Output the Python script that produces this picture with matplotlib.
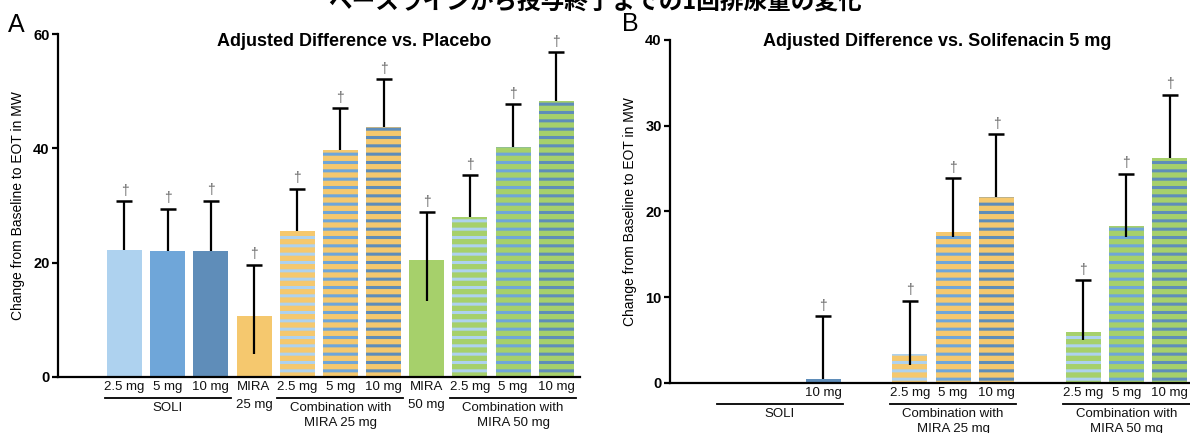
import numpy as np
import matplotlib
matplotlib.use("Agg")
import matplotlib.pyplot as plt
from matplotlib.transforms import ScaledTranslation

plt.rcParams["font.family"] = ["Liberation Sans", "DejaVu Sans"]
plt.rcParams["hatch.linewidth"] = 2.2

# ---- categories -------------------------------------------------------
dose_labels = ["2.5 mg", "5 mg", "10 mg", "MIRA\n25 mg",
               "2.5 mg", "5 mg", "10 mg", "MIRA\n50 mg",
               "2.5 mg", "5 mg", "10 mg"]
group_labels = ["SOLI", "Combination with\nMIRA 25 mg", "Combination with\nMIRA 50 mg"]
group_members = [(0, 2), (4, 6), (8, 10)]

# ---- panel A: adjusted difference vs placebo (mL) -----------------------
placebo_diff = [22.2, 22.0, 22.0, 10.7, 25.5, 39.7, 43.7, 20.5, 28.0, 40.2, 48.3]
placebo_upper = [30.7, 29.4, 30.8, 19.6, 32.9, 47.0, 52.1, 28.8, 35.3, 47.7, 56.8]
placebo_lower = [22.2, 22.0, 22.0, 4.0, 25.5, 39.7, 43.7, 13.3, 28.0, 40.2, 48.3]

# ---- panel B: adjusted difference vs solifenacin 5 mg (mL) --------------
nan = np.nan
soli5_diff = [nan, nan, 0.5, nan, 3.4, 17.6, 21.7, nan, 5.9, 18.3, 26.2]
soli5_upper = [nan, nan, 7.8, nan, 9.6, 23.9, 29.0, nan, 12.0, 24.4, 33.6]
soli5_lower = [nan, nan, 0.5, nan, 2.1, 17.0, 21.7, nan, 5.0, 17.0, 26.2]

# ---- colours ------------------------------------------------------------
SOLI_25, SOLI_5, SOLI_10 = "#aed2ef", "#6fa6d9", "#5f8db9"
MIRA_25, MIRA_50 = "#f5c86e", "#a6d06b"
face_colors = [SOLI_25, SOLI_5, SOLI_10, MIRA_25,
               MIRA_25, MIRA_25, MIRA_25, MIRA_50,
               MIRA_50, MIRA_50, MIRA_50]
stripe_colors = [None, None, None, None,
                 SOLI_25, SOLI_5, SOLI_10, None,
                 SOLI_25, SOLI_5, SOLI_10]

W, H = 1190, 433
fig = plt.figure(figsize=(W / 100, H / 100), dpi=100)


def px_axes(left, top, right, bottom):
    return fig.add_axes([left / W, 1 - bottom / H, (right - left) / W, (bottom - top) / H])


def below(ax, px):
    """Transform: x in data, y = px pixels under the x axis."""
    return ax.get_xaxis_transform() + ScaledTranslation(0, -px / 100, fig.dpi_scale_trans)


def draw_panel(ax, values, lower, upper, ymax, step, title, title_xy, label_x):
    x = np.arange(len(values))
    for i, v in enumerate(values):
        if np.isnan(v):
            continue
        if stripe_colors[i]:
            ax.bar(x[i], v, width=0.81, color=face_colors[i], edgecolor=stripe_colors[i],
                   linewidth=0, hatch="--", zorder=2)
        else:
            ax.bar(x[i], v, width=0.81, color=face_colors[i], linewidth=0, zorder=2)
        ax.vlines(x[i], lower[i], upper[i], color="black", lw=1.6, zorder=3)
        ax.plot(x[i], upper[i], marker="_", ms=11, mew=1.8, color="black", zorder=3)
        ax.annotate("\u2020", xy=(x[i], upper[i]), xytext=(0, 2.5), textcoords="offset points",
                    ha="center", va="bottom", color="#666666", fontsize=10)
        # category label under the bar
        for k, line in enumerate(dose_labels[i].split("\n")):
            ax.text(x[i], 0, line, transform=below(ax, [9.7, 28][k]),
                    ha="center", va="center", fontsize=9.5, color="#111111")

    for (a, b), glabel in zip(group_members, group_labels):
        ax.plot([a - 0.46, b + 0.46], [0, 0], color="black", lw=1.3,
                transform=below(ax, 20.7), clip_on=False)
        for k, line in enumerate(glabel.split("\n")):
            ax.text((a + b) / 2, 0, line, transform=below(ax, [30.7, 46.3][k]),
                    ha="center", va="center", fontsize=9.5, color="#111111")

    ax.set_xlim(-1.54, 10.55)
    ax.set_ylim(0, ymax)
    ax.set_yticks(np.arange(0, ymax + 1, step))
    ax.set_xticks([])
    for s in ("top", "right"):
        ax.spines[s].set_visible(False)
    for s in ("left", "bottom"):
        ax.spines[s].set_linewidth(1.6)
    ax.tick_params(axis="y", direction="out", length=4, width=1.6, pad=2, labelsize=10.5)
    for t in ax.get_yticklabels():
        t.set_fontweight("bold")
    ax.set_ylabel("Change from Baseline to EOT in MW", fontsize=10)
    ax.yaxis.set_label_coords(label_x, 0.5)
    ax.text(*title_xy, title, transform=ax.transAxes, ha="center", va="center",
            fontsize=13, fontweight="bold")


axA = px_axes(58, 34, 580, 377)
axB = px_axes(670, 40, 1193.5, 383)

draw_panel(axA, placebo_diff, placebo_lower, placebo_upper, 60, 20,
           "Adjusted Difference vs. Placebo", (0.567, 1 - 7 / 343), -0.063)
draw_panel(axB, soli5_diff, soli5_lower, soli5_upper, 40, 10,
           "Adjusted Difference vs. Solifenacin 5 mg", (0.51, 1 - 2 / 343), -0.063)

fig.text(8 / W, 1 - 32 / H, "A", fontsize=18, ha="left", va="baseline")
fig.text(622 / W, 1 - 31 / H, "B", fontsize=18, ha="left", va="baseline")
fig.text(0.5, 1 - 9 / H, "ベースラインから投与終了までの1回排尿量の変化",
         family=["Noto Sans CJK JP", "DejaVu Sans"], fontsize=17, fontweight="bold",
         ha="center", va="baseline")

fig.savefig("out.png", dpi=100)
